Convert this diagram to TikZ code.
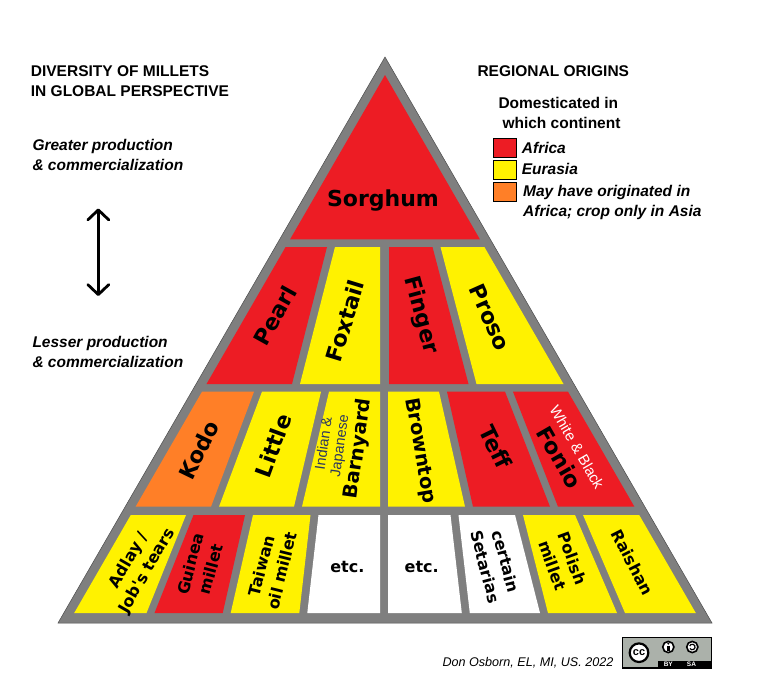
\documentclass[tikz,border=0pt]{standalone}
\usepackage{fontspec}
\setmainfont{Liberation Sans}
\newfontfamily\dvs{DejaVu Sans}
\usetikzlibrary{arrows.meta}
\definecolor{mred}{HTML}{ED1C24}
\definecolor{myel}{HTML}{FFF200}
\definecolor{mora}{HTML}{FF7F27}
\definecolor{mgray}{HTML}{7F7F7F}
\definecolor{mnavy}{RGB}{45,55,95}
\definecolor{ccgray}{HTML}{ABB1AA}
\newcommand\fsz[2]{\fontsize{#1pt}{#2pt}\selectfont}
\begin{document}
\begin{tikzpicture}[x=1pt,y=-1pt,
  big/.style={font=\dvs\bfseries\fsz{22}{24}, inner sep=0pt},
  bigs/.style={font=\dvs\bfseries\fsz{19.5}{22}, inner sep=0pt},
  small/.style={font=\dvs\bfseries\fsz{16}{21}, inner sep=0pt, align=center},
  head/.style={font=\bfseries\fsz{15.5}{18}, inner sep=0pt, anchor=base west},
  ital/.style={font=\bfseries\itshape\fsz{15.5}{18}, inner sep=0pt, anchor=base west},
  keybox/.style={draw=black, line width=0.8pt},
]
\useasboundingbox (0,0) rectangle (768,680);
\fill[white] (0,0) rectangle (768,680);

% pyramid frame
\filldraw[fill=mgray, draw=black!70, line width=0.5pt] (385,57) -- (712,623) -- (58,623) -- cycle;

% row 1
\fill[mred] (385,75) -- (479.9,239.3) -- (290.1,239.3) -- cycle;
% row 2
\fill[mred] (285.6,247) -- (327,247) -- (292,384) -- (206.5,384) -- cycle;
\fill[myel] (335,247) -- (380,247) -- (380,384) -- (300,384) -- cycle;
\fill[mred] (389,247) -- (432.5,247) -- (468.5,384) -- (389,384) -- cycle;
\fill[myel] (440.5,247) -- (484.4,247) -- (563.5,384) -- (476.5,384) -- cycle;
% row 3
\fill[mora] (202,391.7) -- (254,391.7) -- (211,506.7) -- (135.6,506.7) -- cycle;
\fill[myel] (262,391.7) -- (321,391.7) -- (294,506.7) -- (219,506.7) -- cycle;
\fill[myel] (329,391.7) -- (380,391.7) -- (380,506.7) -- (302,506.7) -- cycle;
\fill[myel] (388,391.7) -- (439,391.7) -- (465,506.7) -- (388,506.7) -- cycle;
\fill[mred] (447,391.7) -- (505,391.7) -- (550,506.7) -- (473,506.7) -- cycle;
\fill[mred] (513,391.7) -- (568,391.7) -- (634.4,506.7) -- (558,506.7) -- cycle;
% row 4
\fill[myel] (130.8,515) -- (186,515) -- (146.5,613) -- (74.2,613) -- cycle;
\fill[mred] (193.5,515) -- (245,515) -- (222.7,613) -- (154.5,613) -- cycle;
\fill[myel] (253,515) -- (310.5,515) -- (299.3,613) -- (230.7,613) -- cycle;
\fill[white] (318.5,515) -- (380,515) -- (380,613) -- (307.3,613) -- cycle;
\fill[white] (388,515) -- (450.5,515) -- (461.8,613) -- (388,613) -- cycle;
\fill[white] (458.5,515) -- (515,515) -- (540,613) -- (469.8,613) -- cycle;
\fill[myel] (523,515) -- (575,515) -- (617,613) -- (548,613) -- cycle;
\fill[myel] (583,515) -- (639.2,515) -- (695.8,613) -- (625,613) -- cycle;

% labels
\node[big, anchor=base] (sorghum) at (383,206.7) {Sorghum};
\node[big, rotate=61] (pearl) at (275,315.7) {Pearl};
\node[big, rotate=73] (foxtail) at (345,320.7) {Foxtail};
\node[big, rotate=-75] (finger) at (420.7,315) {Finger};
\node[big, rotate=-66] (proso) at (490,317.3) {Proso};

\node[big, rotate=64] (kodo) at (199,450) {Kodo};
\node[big, rotate=70] (little) at (273.3,445.7) {Little};
\node[font=\fsz{14.5}{16}, inner sep=0pt, align=center, rotate=82] (barnyard) at (343,446.5)
  {\textcolor{mnavy}{Indian \&}\\\textcolor{mnavy}{Japanese}\\[1pt]{\dvs\bfseries\fsz{19.5}{20}Barnyard}};
\node[bigs, rotate=-80] (browntop) at (420,450.7) {Browntop};
\node[big, rotate=-64] (teff) at (495.7,446.7) {Teff};
\node[font=\fsz{15}{17}, inner sep=0pt, align=center, rotate=-60] (fonio) at (567,453)
  {\textcolor{white}{White \& Black}\\[6pt]{\dvs\bfseries\fsz{22}{22}Fonio}};

\node[small, rotate=60] (adlay) at (138.3,565.7) {Adlay /\\Job's tears};
\node[small, rotate=75] (guinea) at (200.7,566.7) {Guinea\\millet};
\node[small, rotate=76] (taiwan) at (271.7,568.3) {Taiwan\\oil millet};
\node[small] (etcA) at (347.3,566.7) {etc.};
\node[small] (etcB) at (421.7,566.7) {etc.};
\node[small, rotate=-75] (setaria) at (495.7,564) {certain\\Setarias};
\node[small, rotate=-70] (polish) at (562.3,561.7) {Polish\\millet};
\node[small, rotate=-63] (raishan) at (632.3,562.3) {Raishan};

% left texts
\node[head] (t1) at (30.7,76.7) {DIVERSITY OF MILLETS};
\node[head] (t2) at (30.7,96.7) {IN GLOBAL PERSPECTIVE};
\node[ital] (g1) at (32.3,150.7) {Greater production};
\node[ital] (g2) at (32.3,170.7) {\& commercialization};
\node[ital] (l1) at (32.3,347.7) {Lesser production};
\node[ital] (l2) at (32.3,367.3) {\& commercialization};
\coordinate (arrT) at (98.3,208.5);
\coordinate (arrB) at (98.3,296);
\draw[line width=2.8pt, {Straight Barb[round,length=10pt,width=21pt]}-{Straight Barb[round,length=10pt,width=21pt]}] (arrT) -- (arrB);

% legend
\node[head] (r1) at (477.3,76.7) {REGIONAL ORIGINS};
\node[head] (d1) at (498.3,108.3) {Domesticated in};
\node[head] (d2) at (502.3,128.3) {which continent};
\filldraw[keybox, fill=mred] (493.3,138.7) rectangle (516,157.7);
\filldraw[keybox, fill=myel] (493.3,160.7) rectangle (516,179.3);
\filldraw[keybox, fill=mora] (493.3,182.3) rectangle (516,201.3);
\node[ital] (kA) at (521.7,153.3) {Africa};
\node[ital] (kE) at (521.7,174.3) {Eurasia};
\node[ital] (kM1) at (523,196.7) {May have originated in};
\node[ital] (kM2) at (523,216.7) {Africa; crop only in Asia};

% footer
\node[font=\itshape\fsz{12.6}{14}, inner sep=0pt, anchor=base west] (author) at (442.3,666) {Don Osborn, EL, MI, US. 2022};
\fill[black] (622,637) rectangle (712,668.5);
\fill[ccgray] (623.2,638.2) rectangle (710.8,667.3);
\fill[black] (657.5,660.5) rectangle (710.8,667.3);
\node[text=white, font=\bfseries\fsz{6.5}{7}, inner sep=0pt] (by) at (668.3,664) {BY};
\node[text=white, font=\bfseries\fsz{6.5}{7}, inner sep=0pt] (sa) at (691.5,664) {SA};
\filldraw[fill=white, draw=black, line width=2.2pt] (639,652.7) circle (9.3);
\node[font=\bfseries\fsz{11}{11}, inner sep=0pt] (cc) at (639,652.2) {cc};
\filldraw[fill=white, draw=black, line width=1.6pt] (668.3,647) circle (5.6);
\fill[black] (668.3,643.6) circle (1.1);
\fill[black] (667,645.6) rectangle (669.6,651);
\filldraw[fill=white, draw=black, line width=1.6pt] (692.3,647) circle (5.6);
\draw[line width=1.2pt] (692.3,647) ++(150:2.8) arc (150:-160:2.8);
\end{tikzpicture}
\end{document}
